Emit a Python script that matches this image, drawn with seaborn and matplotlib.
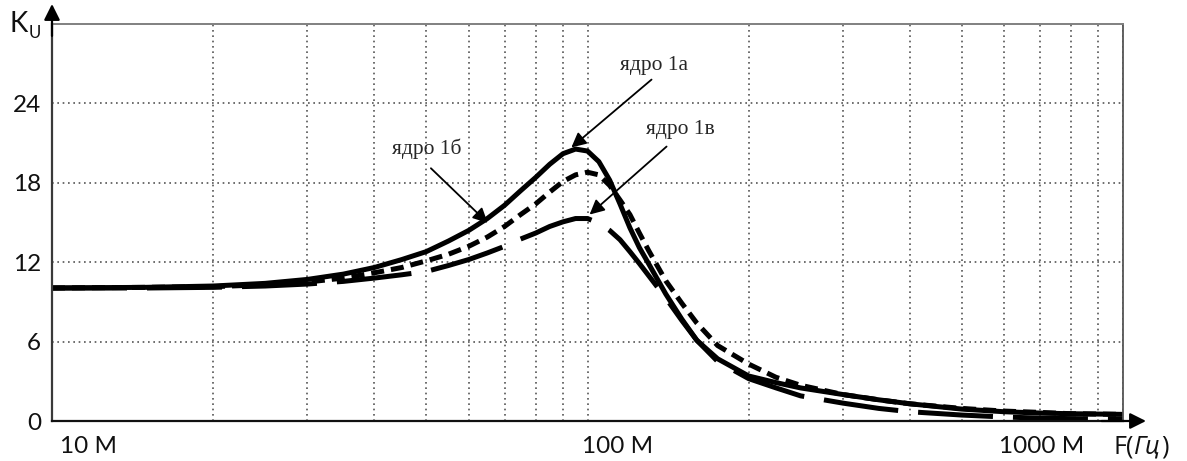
import numpy as np
import pandas as pd
import matplotlib
matplotlib.use("Agg")
import matplotlib.pyplot as plt
import matplotlib.ticker as mticker
import seaborn as sns

# ---- data ----
freq_mhz = [10, 15, 20, 25, 30, 35, 40, 45, 50, 55, 60, 65, 70, 75, 80, 85, 90, 95,
            100, 105, 110, 115, 120, 125, 130, 140, 150, 160, 175, 200, 225, 250,
            300, 350, 400, 500, 600, 700, 800, 1000]
k_core_1a = [10.05, 10.1, 10.2, 10.4, 10.7, 11.1, 11.6, 12.2, 12.8, 13.6, 14.4, 15.3,
             16.3, 17.4, 18.4, 19.4, 20.2, 20.55, 20.4, 19.6, 18.2, 16.4, 14.6, 13.1,
             11.9, 9.6, 7.7, 6.1, 4.7, 3.4, 2.9, 2.5, 2.0, 1.6, 1.3, 0.9, 0.7, 0.6,
             0.55, 0.5]
k_core_1b = [10.05, 10.1, 10.15, 10.3, 10.5, 10.8, 11.2, 11.6, 12.1, 12.6, 13.2, 13.9,
             14.7, 15.6, 16.4, 17.3, 18.1, 18.6, 18.8, 18.6, 17.8, 16.7, 15.6, 14.2,
             12.9, 10.6, 8.9, 7.4, 5.7, 4.3, 3.3, 2.7, 2.0, 1.6, 1.3, 0.95, 0.75,
             0.65, 0.55, 0.5]
k_core_1v = [10.05, 10.05, 10.1, 10.2, 10.35, 10.55, 10.8, 11.05, 11.3, 11.75, 12.2,
             12.7, 13.2, 13.75, 14.2, 14.7, 15.05, 15.3, 15.3, 14.95, 14.4, 13.7, 12.8,
             11.9, 11.0, 9.3, 7.6, 6.1, 4.5, 3.2, 2.5, 1.9, 1.35, 0.95, 0.7, 0.45,
             0.3, 0.22, 0.18, 0.15]
series_names = ["ядро 1а", "ядро 1б", "ядро 1в"]
y_ticks = [0, 6, 12, 18, 24]
x_labels = ["10 M", "100 M", "1000 M"]

df = pd.concat([
    pd.DataFrame({"F": freq_mhz, "K": k, "core": name})
    for name, k in zip(series_names, [k_core_1a, k_core_1b, k_core_1v])
])

sns.set_theme(style="white")
plt.rcParams["font.family"] = ["Lato", "DejaVu Sans"]

W, H = 1187, 461
fig = plt.figure(figsize=(W / 100, H / 100), dpi=100)
ax = fig.add_axes([52 / W, 40 / H, 1071 / W, 397 / H])

sns.lineplot(data=df, x="F", y="K", style="core",
             dashes={"ядро 1а": "", "ядро 1б": (2.6, 1.4), "ядро 1в": (15, 4)},
             color="black", lw=3.6, legend=False, ax=ax, errorbar=None, sort=False)

ax.set_xscale("log")
ax.set_xlim(10, 1000)
ax.set_ylim(0, 30)
ax.xaxis.set_major_locator(mticker.FixedLocator([10, 100, 1000]))
ax.xaxis.set_minor_locator(mticker.LogLocator(base=10, subs=np.arange(2, 10)))
ax.xaxis.set_major_formatter(mticker.NullFormatter())
ax.xaxis.set_minor_formatter(mticker.NullFormatter())
ax.set_yticks(y_ticks)
ax.set_yticklabels([str(v) for v in y_ticks], fontsize=17.5, color="#111111")
ax.tick_params(axis="both", which="both", length=0)
ax.tick_params(axis="y", pad=8)
ax.set_xlabel("")
ax.set_ylabel("")

grid_kw = dict(color="#555555", ls=(0, (1, 2.2)), lw=1.2)
ax.grid(True, which="both", axis="x", **grid_kw)
ax.grid(True, which="major", axis="y", **grid_kw)
ax.set_axisbelow(True)

for side, col, lw in [("left", "#3a3a3a", 1.6), ("bottom", "#111111", 1.6),
                      ("top", "#808080", 1.4), ("right", "#555555", 1.3)]:
    ax.spines[side].set_visible(True)
    ax.spines[side].set_color(col)
    ax.spines[side].set_linewidth(lw)

# axis arrows
ax.annotate("", xy=(0, 1 + 20 / 397), xytext=(0, 0.97), xycoords="axes fraction",
            arrowprops=dict(arrowstyle="-|>", color="black", lw=1.6,
                            mutation_scale=24, shrinkA=0, shrinkB=0),
            annotation_clip=False)
ax.annotate("", xy=(1 + 23 / 1071, 0), xytext=(0.98, 0), xycoords="axes fraction",
            arrowprops=dict(arrowstyle="-|>", color="black", lw=1.6,
                            mutation_scale=24, shrinkA=0, shrinkB=0),
            annotation_clip=False)

# axis titles
fig.text(10 / W, 1 - 24 / H, "K", fontsize=20, ha="left", va="center", color="#111111")
fig.text(29 / W, 1 - 33 / H, "U", fontsize=12, ha="left", va="center", color="#111111")
t1 = fig.text(1114 / W, 1 - 447 / H, "F(", fontsize=18, ha="left", va="center",
              color="#111111", family=["Open Sans", "DejaVu Sans"])
t2 = ax.annotate("Гц", xy=(1, 0), xycoords=t1, ha="left", va="bottom", fontsize=18,
                 style="italic", color="#111111", family=["Open Sans", "DejaVu Sans"])
ax.annotate(")", xy=(1, 0), xycoords=t2, ha="left", va="bottom", fontsize=18,
            color="#111111", family=["Open Sans", "DejaVu Sans"])

# x labels
for xpos, lab, ha in [(10.35, x_labels[0], "left"), (97.5, x_labels[1], "left"),
                      (845, x_labels[2], "right")]:
    ax.text(xpos, -1.95, lab, fontsize=17.5, ha=ha, va="center", color="#111111",
            clip_on=False)

# series annotations
serif = ["Liberation Serif", "DejaVu Serif"]
arrow_kw = dict(arrowstyle="-|>", color="black", lw=1.3, mutation_scale=22,
                shrinkA=0, shrinkB=0)
ax.text(133, 26.9, series_names[0], fontsize=15.5, family=serif, ha="center", va="center")
ax.annotate("", xy=(93.3, 20.67), xytext=(131.7, 25.8), arrowprops=arrow_kw)
ax.text(149, 22.0, series_names[2], fontsize=15.5, family=serif, ha="center", va="center")
ax.annotate("", xy=(100.9, 15.6), xytext=(140.5, 20.74), arrowprops=arrow_kw)
ax.text(50, 20.6, series_names[1], fontsize=15.5, family=serif, ha="center", va="center")
ax.annotate("", xy=(65.1, 14.97), xytext=(51, 19.1), arrowprops=arrow_kw)

fig.savefig("out.png", dpi=100, facecolor="white")
